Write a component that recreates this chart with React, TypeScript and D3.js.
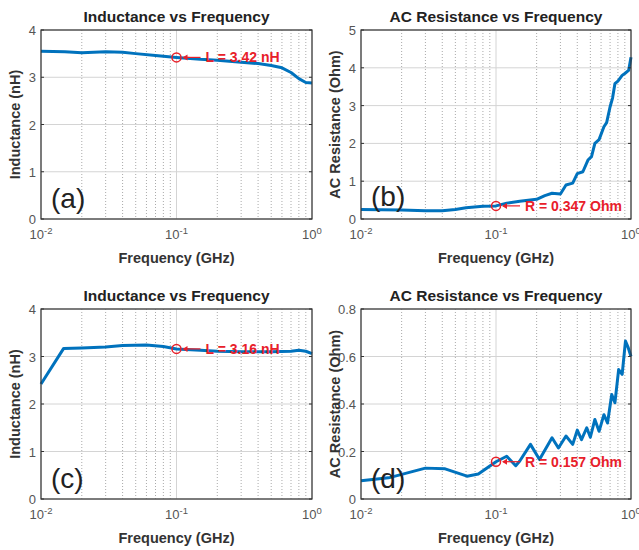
import React from 'react';
import * as d3 from 'd3';

// frequency in GHz
const freqA = [0.01, 0.015, 0.02, 0.03, 0.04, 0.05, 0.07, 0.1, 0.15, 0.2, 0.3, 0.4, 0.5, 0.6, 0.7, 0.8, 0.9, 1.0];
const indA = [3.55, 3.54, 3.52, 3.54, 3.53, 3.5, 3.46, 3.42, 3.38, 3.36, 3.32, 3.29, 3.25, 3.2, 3.1, 2.97, 2.89, 2.88];

const freqB = [0.01, 0.02, 0.03, 0.04, 0.05, 0.06, 0.08, 0.1, 0.12, 0.15, 0.2, 0.23, 0.26, 0.3, 0.33, 0.37, 0.4, 0.44, 0.48, 0.51, 0.54, 0.58, 0.63, 0.66, 0.7, 0.73, 0.76, 0.8, 0.86, 0.9, 0.96, 1.0];
const resB = [0.25, 0.24, 0.22, 0.22, 0.25, 0.3, 0.34, 0.347, 0.42, 0.47, 0.52, 0.62, 0.68, 0.66, 0.9, 0.95, 1.2, 1.25, 1.56, 1.65, 2.0, 2.1, 2.44, 2.55, 2.97, 3.2, 3.58, 3.65, 3.8, 3.85, 3.93, 4.28];

const freqC = [0.01, 0.0147, 0.02, 0.03, 0.04, 0.06, 0.08, 0.1, 0.15, 0.2, 0.3, 0.5, 0.7, 0.8, 0.9, 1.0];
const indC = [2.42, 3.17, 3.18, 3.2, 3.23, 3.24, 3.21, 3.16, 3.13, 3.11, 3.1, 3.1, 3.11, 3.13, 3.11, 3.06];

const freqD = [0.01, 0.016, 0.03, 0.042, 0.061, 0.074, 0.1, 0.12, 0.14, 0.15, 0.18, 0.21, 0.26, 0.29, 0.33, 0.37, 0.4, 0.43, 0.47, 0.5, 0.54, 0.58, 0.63, 0.67, 0.72, 0.76, 0.81, 0.86, 0.91, 0.95, 1.0];
const resD = [0.077, 0.089, 0.13, 0.127, 0.096, 0.105, 0.157, 0.18, 0.14, 0.16, 0.23, 0.166, 0.258, 0.215, 0.265, 0.23, 0.29, 0.25, 0.3, 0.26, 0.335, 0.285, 0.355, 0.32, 0.44, 0.405, 0.545, 0.525, 0.665, 0.64, 0.6];

const yTicksL = [0, 1, 2, 3, 4];
const yTicksB = [0, 1, 2, 3, 4, 5];
const yTicksD = [0, 0.2, 0.4, 0.6, 0.8];
const decades = [-2, -1, 0];

const BLUE = '#0072BD';
const RED = '#e8202a';
const FONT = 'Arial, "Liberation Sans", sans-serif';

type PanelProps = {
  x0: number; x1: number; y0: number; y1: number;
  title: string; ylabel: string; tag: string;
  freq: number[]; vals: number[]; yMax: number; yTicks: number[];
  fmt: (v: number) => string;
  markVal: number; note: string; tagY: number;
};

function Panel(p: PanelProps) {
  const x = d3.scaleLog().domain([0.01, 1]).range([p.x0, p.x1]);
  const y = d3.scaleLinear().domain([0, p.yMax]).range([p.y1, p.y0]);
  const minor: number[] = [];
  [0.01, 0.1].forEach(d => { for (let k = 2; k <= 9; k++) minor.push(d * k); });
  const line = d3.line<number>().x((_, i) => x(p.freq[i])).y(v => y(v));
  const mx = x(0.1), my = y(p.markVal);
  const cx = (p.x0 + p.x1) / 2;
  return (
    <g fontFamily={FONT}>
      <rect x={p.x0} y={p.y0} width={p.x1 - p.x0} height={p.y1 - p.y0} fill="#fff" />
      {minor.map(f => (
        <line key={f} x1={x(f)} x2={x(f)} y1={p.y0} y2={p.y1} stroke="#aaa" strokeWidth={1} strokeDasharray="1,2" />
      ))}
      {decades.map(d => (
        <line key={d} x1={x(10 ** d)} x2={x(10 ** d)} y1={p.y0} y2={p.y1} stroke="#d4d4d4" strokeWidth={1} />
      ))}
      {p.yTicks.map(t => (
        <line key={t} x1={p.x0} x2={p.x1} y1={y(t)} y2={y(t)} stroke="#d4d4d4" strokeWidth={1} />
      ))}
      <path d={line(p.vals) || ''} fill="none" stroke={BLUE} strokeWidth={3} strokeLinejoin="round" />
      <rect x={p.x0} y={p.y0} width={p.x1 - p.x0} height={p.y1 - p.y0} fill="none" stroke="#333" strokeWidth={1.2} />
      {p.yTicks.map(t => (
        <g key={'t' + t}>
          <line x1={p.x0} x2={p.x0 + 3} y1={y(t)} y2={y(t)} stroke="#333" />
          <line x1={p.x1} x2={p.x1 - 3} y1={y(t)} y2={y(t)} stroke="#333" />
          <text x={p.x0 - 5} y={y(t) + 5} textAnchor="end" fontSize={13} fill="#555">{p.fmt(t)}</text>
        </g>
      ))}
      {decades.map(d => (
        <text key={'d' + d} x={x(10 ** d)} y={p.y1 + 20} textAnchor="middle" fontSize={13} fill="#555">
          10<tspan dy={-5} fontSize={9.5}>{d === 0 ? '0' : String(d)}</tspan>
        </text>
      ))}
      <text x={cx} y={p.y0 - 8} textAnchor="middle" fontSize={15.5} fontWeight="bold" fill="#222">{p.title}</text>
      <text x={cx} y={p.y1 + 44} textAnchor="middle" fontSize={14.5} fontWeight="bold" fill="#333">Frequency (GHz)</text>
      <text transform={`translate(${p.x0 - 21},${(p.y0 + p.y1) / 2}) rotate(-90)`} textAnchor="middle" fontSize={14.5} fontWeight="bold" fill="#333">{p.ylabel}</text>
      <text x={p.x0 + 10} y={p.tagY} fontSize={28} fill="#222">{p.tag}</text>
      <circle cx={mx} cy={my} r={4.5} fill="none" stroke={RED} strokeWidth={1.5} />
      <line x1={mx + 7} x2={mx + 24} y1={my} y2={my} stroke={RED} strokeWidth={1.2} />
      <path d={`M${mx + 6},${my} l5,-3 l0,6 z`} fill={RED} />
      <text x={mx + 29} y={my + 5} fontSize={14} fontWeight="bold" fill={RED}>{p.note}</text>
    </g>
  );
}

export default function App() {
  const fmtInt = (v: number) => String(v);
  const fmtDec = (v: number) => (v === 0 ? '0' : v.toFixed(1));
  return (
    <svg width={639} height={550} style={{ display: 'block', position: 'absolute', left: 0, top: 0 }}>
      <rect width={639} height={550} fill="#fff" />
      <Panel x0={41} x1={312} y0={30} y1={219} title="Inductance vs Frequency" ylabel="Inductance (nH)" tag="(a)"
        freq={freqA} vals={indA} yMax={4} yTicks={yTicksL} fmt={fmtInt} markVal={3.42} note="L = 3.42 nH" tagY={208} />
      <Panel x0={361} x1={631} y0={30} y1={219} title="AC Resistance vs Frequency" ylabel="AC Resistance (Ohm)" tag="(b)"
        freq={freqB} vals={resB} yMax={5} yTicks={yTicksB} fmt={fmtInt} markVal={0.347} note="R = 0.347 Ohm" tagY={206} />
      <Panel x0={41} x1={312} y0={309} y1={499} title="Inductance vs Frequency" ylabel="Inductance (nH)" tag="(c)"
        freq={freqC} vals={indC} yMax={4} yTicks={yTicksL} fmt={fmtInt} markVal={3.16} note="L = 3.16 nH" tagY={488} />
      <Panel x0={361} x1={631} y0={309} y1={499} title="AC Resistance vs Frequency" ylabel="AC Resistance (Ohm)" tag="(d)"
        freq={freqD} vals={resD} yMax={0.8} yTicks={yTicksD} fmt={fmtDec} markVal={0.157} note="R = 0.157 Ohm" tagY={488} />
    </svg>
  );
}
